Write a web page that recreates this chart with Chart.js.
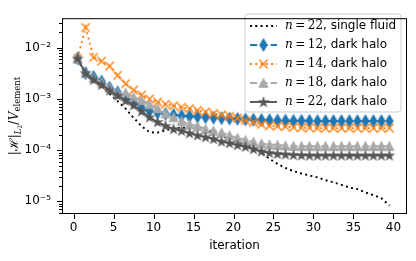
<!DOCTYPE html>
<html>
<head>
<meta charset="utf-8">
<script src="https://cdn.jsdelivr.net/npm/chart.js@4"></script>
<style>
  body { margin: 0; background: #fff; }
  canvas { display: block; }
</style>
</head>
<body>
<canvas id="chart" width="416" height="261"></canvas>
<script>
// iteration numbers (x) and the residual for each run (y)
const iterations = [0.5, 1.5, 2.5, 3.5, 4.5, 5.5, 6.5, 7.5, 8.5, 9.5,
    10.5, 11.5, 12.5, 13.5, 14.5, 15.5, 16.5, 17.5, 18.5, 19.5,
    20.5, 21.5, 22.5, 23.5, 24.5, 25.5, 26.5, 27.5, 28.5, 29.5,
    30.5, 31.5, 32.5, 33.5, 34.5, 35.5, 36.5, 37.5, 38.5, 39.5];

const singleFluid22 = [6.0e-3, 3.0e-3, 2.3e-3, 1.74e-3, 1.26e-3, 9.1e-4, 6.5e-4, 4.3e-4, 2.95e-4, 2.25e-4,
    2.2e-4, 2.45e-4, 2.7e-4, 2.75e-4, 2.75e-4, 2.6e-4, 2.45e-4, 2.2e-4, 1.9e-4, 1.66e-4,
    1.45e-4, 1.29e-4, 1.12e-4, 8.9e-5, 6.8e-5, 5.4e-5, 4.5e-5, 3.9e-5, 3.5e-5, 3.2e-5,
    2.95e-5, 2.6e-5, 2.35e-5, 2.1e-5, 1.86e-5, 1.74e-5, 1.5e-5, 1.32e-5, 1.15e-5, 8.3e-6];

const halo12 = [6.2e-3, 3.2e-3, 2.7e-3, 2.2e-3, 1.66e-3, 1.35e-3, 1.1e-3, 8.7e-4, 6.8e-4, 5.8e-4,
    5.4e-4, 5.1e-4, 4.9e-4, 4.7e-4, 4.6e-4, 4.5e-4, 4.4e-4, 4.3e-4, 4.2e-4, 4.15e-4,
    4.1e-4, 4.0e-4, 3.95e-4, 3.9e-4, 3.85e-4, 3.8e-4, 3.8e-4, 3.75e-4, 3.75e-4, 3.75e-4,
    3.7e-4, 3.7e-4, 3.7e-4, 3.7e-4, 3.7e-4, 3.7e-4, 3.7e-4, 3.7e-4, 3.7e-4, 3.7e-4];

const halo14 = [6.2e-3, 2.5e-2, 6.5e-3, 5.5e-3, 4.4e-3, 2.9e-3, 2.0e-3, 1.5e-3, 1.2e-3, 1.0e-3,
    8.7e-4, 7.9e-4, 7.4e-4, 6.9e-4, 6.5e-4, 6.0e-4, 5.6e-4, 5.2e-4, 4.9e-4, 4.6e-4,
    4.2e-4, 3.8e-4, 3.5e-4, 3.2e-4, 3.0e-4, 2.95e-4, 2.9e-4, 2.8e-4, 2.75e-4, 2.75e-4,
    2.7e-4, 2.7e-4, 2.7e-4, 2.7e-4, 2.7e-4, 2.7e-4, 2.7e-4, 2.7e-4, 2.7e-4, 2.7e-4];

const halo18 = [6.2e-3, 3.3e-3, 2.6e-3, 2.1e-3, 1.66e-3, 1.32e-3, 1.32e-3, 1.1e-3, 9.5e-4, 7.9e-4,
    6.6e-4, 5.2e-4, 4.4e-4, 3.7e-4, 3.2e-4, 2.95e-4, 2.6e-4, 2.4e-4, 2.2e-4, 1.95e-4,
    1.74e-4, 1.58e-4, 1.45e-4, 1.35e-4, 1.29e-4, 1.26e-4, 1.23e-4, 1.21e-4, 1.2e-4, 1.2e-4,
    1.2e-4, 1.2e-4, 1.2e-4, 1.2e-4, 1.2e-4, 1.2e-4, 1.2e-4, 1.2e-4, 1.2e-4, 1.2e-4];

const halo22 = [6.2e-3, 3.2e-3, 2.4e-3, 1.9e-3, 1.48e-3, 1.17e-3, 9.3e-4, 7.6e-4, 5.75e-4, 4.4e-4,
    3.55e-4, 3.0e-4, 2.6e-4, 2.4e-4, 2.15e-4, 1.95e-4, 1.8e-4, 1.66e-4, 1.48e-4, 1.38e-4,
    1.26e-4, 1.17e-4, 1.05e-4, 9.5e-5, 8.9e-5, 8.5e-5, 8.3e-5, 8.1e-5, 8.0e-5, 7.9e-5,
    7.9e-5, 7.9e-5, 7.9e-5, 7.9e-5, 7.9e-5, 7.9e-5, 7.9e-5, 7.9e-5, 7.9e-5, 7.9e-5];

const xTicks = [0, 5, 10, 15, 20, 25, 30, 35, 40];
const yDecades = [1e-5, 1e-4, 1e-3, 1e-2];
const legendNs = ['22', '12', '14', '18', '22'];
const legendNames = ['single fluid', 'dark halo', 'dark halo', 'dark halo', 'dark halo'];

const BLUE = '#1f77b4', ORANGE = '#ff7f0e', LIGHT = '#a9a9a9', DARK = '#555555';

Chart.defaults.font.family = '"DejaVu Sans", sans-serif';
Chart.defaults.font.size = 12;
Chart.defaults.color = '#000';

// marker images, matplotlib sized (markersize 6pt ~ 8.3px)
function markerCanvas(w, h, draw) {
    const c = document.createElement('canvas');
    c.width = w; c.height = h;
    const g = c.getContext('2d');
    g.lineWidth = 1.2;
    draw(g, w / 2, h / 2);
    return c;
}
const diamondMark = markerCanvas(10, 16, (g, cx, cy) => {
    g.beginPath();
    g.moveTo(cx, cy - 5.9); g.lineTo(cx + 3.5, cy); g.lineTo(cx, cy + 5.9); g.lineTo(cx - 3.5, cy);
    g.closePath();
    g.fillStyle = BLUE; g.strokeStyle = BLUE; g.fill(); g.stroke();
});
const crossMark = markerCanvas(12, 12, (g, cx, cy) => {
    g.lineWidth = 1.4;
    g.strokeStyle = ORANGE;
    g.beginPath();
    g.moveTo(cx - 4.15, cy - 4.15); g.lineTo(cx + 4.15, cy + 4.15);
    g.moveTo(cx - 4.15, cy + 4.15); g.lineTo(cx + 4.15, cy - 4.15);
    g.stroke();
});
const triMark = markerCanvas(12, 12, (g, cx, cy) => {
    g.beginPath();
    g.moveTo(cx, cy - 4.15); g.lineTo(cx + 4.15, cy + 4.15); g.lineTo(cx - 4.15, cy + 4.15);
    g.closePath();
    g.fillStyle = LIGHT; g.strokeStyle = LIGHT; g.fill(); g.stroke();
});
const starMark = markerCanvas(12, 12, (g, cx, cy) => {
    g.beginPath();
    for (let k = 0; k < 10; k++) {
        const r = k % 2 ? 1.6 : 4.3;
        const a = -Math.PI / 2 + k * Math.PI / 5;
        const px = cx + r * Math.cos(a), py = cy + 0.3 + r * Math.sin(a);
        k ? g.lineTo(px, py) : g.moveTo(px, py);
    }
    g.closePath();
    g.fillStyle = DARK; g.strokeStyle = DARK; g.fill(); g.stroke();
});

function pts(ys) {
    return ys.map((y, i) => ({x: iterations[i], y: y}));
}

const LW = 1.9;
const series = [
    {data: pts(singleFluid22), color: '#000', dash: [2, 3.3], mark: null, order: 5},
    {data: pts(halo12), color: BLUE, dash: [7.2, 3.1], mark: diamondMark, order: 4},
    {data: pts(halo14), color: ORANGE, dash: [2, 3.3], mark: crossMark, order: 3},
    {data: pts(halo18), color: LIGHT, dash: [7.2, 3.1], mark: triMark, order: 2},
    {data: pts(halo22), color: DARK, dash: [], mark: starMark, order: 1}
];

const datasets = series.map(s => ({
    data: s.data,
    borderColor: s.color,
    backgroundColor: s.color,
    borderWidth: LW,
    borderDash: s.dash,
    borderCapStyle: 'butt',
    tension: 0,
    fill: false,
    order: s.order,
    pointStyle: s.mark || 'circle',
    pointRadius: s.mark ? 4 : 0,
    pointHoverRadius: s.mark ? 4 : 0
}));

function supNum(n) {
    const map = {'-': '\u207B', '0': '\u2070', '1': '\u00B9', '2': '\u00B2', '3': '\u00B3',
        '4': '\u2074', '5': '\u2075', '6': '\u2076', '7': '\u2077', '8': '\u2078', '9': '\u2079'};
    return String(n).split('').map(ch => map[ch]).join('');
}

// ticks, frame, legend and the y-axis label (mathtext with subscripts)
const decor = {
    id: 'decor',
    afterDatasetsDraw(chart) {
        const ctx = chart.ctx;
        ctx.save();
        // legend box
        const bx = 245, by = 14, bw = 156, bh = 98, r = 3;
        ctx.beginPath();
        ctx.moveTo(bx + r, by);
        ctx.arcTo(bx + bw, by, bx + bw, by + bh, r);
        ctx.arcTo(bx + bw, by + bh, bx, by + bh, r);
        ctx.arcTo(bx, by + bh, bx, by, r);
        ctx.arcTo(bx, by, bx + bw, by, r);
        ctx.closePath();
        ctx.fillStyle = 'rgba(255,255,255,0.8)';
        ctx.fill();
        ctx.strokeStyle = '#cccccc';
        ctx.lineWidth = 1;
        ctx.stroke();

        series.forEach((s, i) => {
            const ry = 26 + i * 19;
            ctx.strokeStyle = s.color;
            ctx.lineWidth = LW;
            ctx.setLineDash(s.dash);
            ctx.beginPath();
            ctx.moveTo(250, ry); ctx.lineTo(277, ry);
            ctx.stroke();
            ctx.setLineDash([]);
            if (s.mark) ctx.drawImage(s.mark, 263.5 - s.mark.width / 2, ry - s.mark.height / 2);

            ctx.fillStyle = '#000';
            ctx.textBaseline = 'middle';
            ctx.textAlign = 'left';
            let tx = 285;
            ctx.font = 'italic 12px "DejaVu Serif"';
            ctx.fillText('n', tx, ry);
            tx += ctx.measureText('n').width + 2.5;
            ctx.font = '12px "DejaVu Serif"';
            ctx.fillText('=', tx, ry);
            tx += ctx.measureText('=').width + 2.5;
            ctx.fillText(legendNs[i], tx, ry);
            tx += ctx.measureText(legendNs[i]).width;
            ctx.font = '12px "DejaVu Sans"';
            ctx.fillText(', ' + legendNames[i], tx, ry);
        });
        ctx.restore();
    },
    afterDraw(chart) {
        const {ctx, chartArea: a, scales: {x, y}} = chart;
        ctx.save();
        ctx.strokeStyle = '#000';
        ctx.lineWidth = 1;
        ctx.beginPath();
        xTicks.forEach(v => {
            const px = Math.round(x.getPixelForValue(v)) + 0.5;
            ctx.moveTo(px, a.bottom); ctx.lineTo(px, a.bottom + 5);
        });
        y.ticks.forEach(t => {
            const py = Math.round(y.getPixelForValue(t.value)) + 0.5;
            const major = yDecades.some(d => Math.abs(d / t.value - 1) < 1e-6);
            ctx.moveTo(a.left, py); ctx.lineTo(a.left - (major ? 5 : 3), py);
        });
        ctx.stroke();
        ctx.strokeRect(a.left + 0.5, a.top + 0.5, a.right - a.left - 1, a.bottom - a.top - 1);

        // y label: |H|_{L_2} / V_element
        const parts = [
            {t: '|', f: '12px "DejaVu Serif"', dy: 0},
            {t: '\u210B', f: '12px "DejaVu Serif"', dy: 0},
            {t: '|', f: '12px "DejaVu Serif"', dy: 0},
            {t: 'L', f: 'italic 8.5px "DejaVu Serif"', dy: 3.5},
            {t: '2', f: '6px "DejaVu Serif"', dy: 5.5},
            {t: '/', f: '12px "DejaVu Serif"', dy: 0, pad: 0.5},
            {t: 'V', f: 'italic 12px "DejaVu Serif"', dy: 0},
            {t: 'element', f: '8.5px "DejaVu Serif"', dy: 3}
        ];
        let total = 0;
        parts.forEach(p => { ctx.font = p.f; p.w = ctx.measureText(p.t).width + (p.pad || 0); total += p.w; });
        ctx.translate(15, (a.top + a.bottom) / 2);
        ctx.rotate(-Math.PI / 2);
        ctx.fillStyle = '#000';
        ctx.textBaseline = 'middle';
        ctx.textAlign = 'left';
        let cx = -total / 2;
        parts.forEach(p => { ctx.font = p.f; ctx.fillText(p.t, cx, p.dy); cx += p.w; });
        ctx.restore();
    }
};

new Chart(document.getElementById('chart'), {
    type: 'line',
    data: {datasets: datasets},
    options: {
        responsive: false,
        animation: false,
        events: [],
        layout: {padding: {top: 8, right: 9, left: 0, bottom: 0}},
        plugins: {legend: {display: false}, tooltip: {enabled: false}},
        scales: {
            x: {
                type: 'linear',
                min: -1.45,
                max: 41.7,
                afterBuildTicks: s => { s.ticks = xTicks.map(v => ({value: v})); },
                afterFit: s => { s.height = 47; },
                grid: {display: false, drawTicks: false},
                border: {display: false},
                ticks: {autoSkip: false, maxRotation: 0, padding: 7, color: '#000'},
                title: {display: true, text: 'iteration', color: '#000', padding: {top: 0, bottom: 8}}
            },
            y: {
                type: 'logarithmic',
                min: 5.66e-6,
                max: 0.038,
                afterBuildTicks: s => {
                    const t = [];
                    [1e-6, 1e-5, 1e-4, 1e-3, 1e-2].forEach(d => {
                        for (let m = 1; m <= 9; m++) {
                            const v = +(m * d).toPrecision(3);
                            if (v >= s.min && v <= s.max) t.push({value: v});
                        }
                    });
                    s.ticks = t;
                },
                afterFit: s => { s.width = 62; },
                grid: {display: false, drawTicks: false},
                border: {display: false},
                ticks: {
                    autoSkip: false,
                    padding: 11,
                    color: '#000',
                    callback: v => {
                        const e = Math.round(Math.log10(v));
                        return Math.abs(Math.log10(v) - e) < 1e-6 ? '10' + supNum(e) : '';
                    }
                }
            }
        }
    },
    plugins: [decor]
});
</script>
</body>
</html>
